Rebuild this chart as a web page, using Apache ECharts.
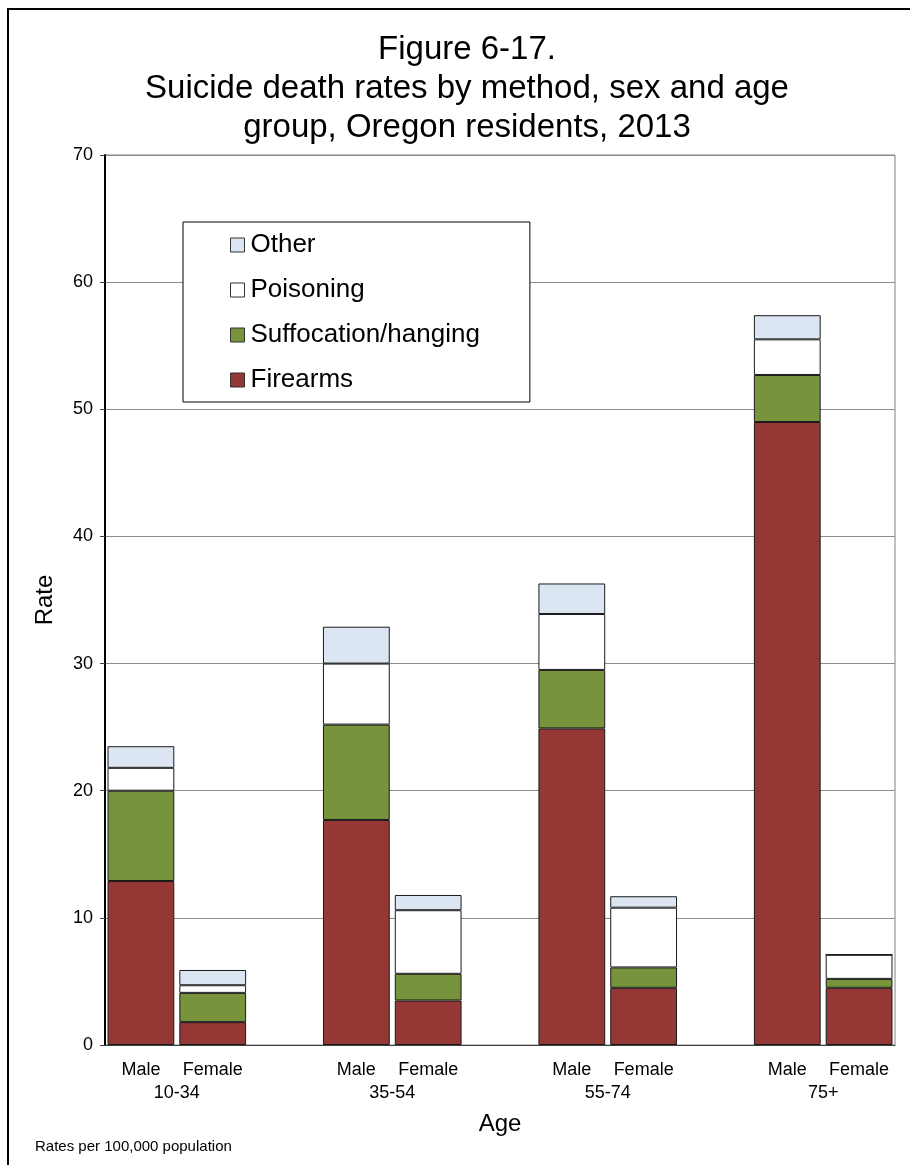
<!DOCTYPE html>
<html>
<head>
<meta charset="utf-8">
<script src="https://cdn.jsdelivr.net/npm/echarts@6/dist/echarts.min.js"></script>
<style>
html,body{margin:0;padding:0;background:#fff;}
#chart{width:910px;height:1165px;}
</style>
</head>
<body>
<div id="chart"></div>
<script>
// ---- data ----
const ageGroups = ['10-34', '35-54', '55-74', '75+'];
const sexes = ['Male', 'Female'];
// order: Male, Female for each age group
const firearms    = [12.9, 1.8, 17.7, 3.5, 24.9, 4.5, 49.0, 4.5];
const suffocation = [7.1, 2.3, 7.5, 2.1, 4.6, 1.6, 3.7, 0.7];
const poisoning   = [1.8, 0.6, 4.8, 5.0, 4.4, 4.7, 2.8, 1.9];
const other       = [1.7, 1.2, 2.9, 1.2, 2.4, 0.9, 1.9, 0];
const yTicks = [0, 10, 20, 30, 40, 50, 60, 70];

// ---- build slots (Male, Female, gap) ----
const cats = [];
const slotIndex = []; // maps data index -> slot
ageGroups.forEach((g, gi) => {
  sexes.forEach((s, si) => { slotIndex.push(cats.length); cats.push(s); });
  if (gi < ageGroups.length - 1) cats.push('');
});
function toSlots(arr) {
  const out = cats.map(() => '-');
  arr.forEach((v, i) => { out[slotIndex[i]] = v; });
  return out;
}
const groupLabelAt = {};
ageGroups.forEach((g, gi) => { groupLabelAt[gi * 3 + 1] = g; });

const border = { borderColor: '#1a1a1a', borderWidth: 1 };
const seriesDefs = [
  { name: 'Firearms', data: firearms, color: '#953735' },
  { name: 'Suffocation/hanging', data: suffocation, color: '#77933C' },
  { name: 'Poisoning', data: poisoning, color: '#FFFFFF' },
  { name: 'Other', data: other, color: '#DCE6F2' }
];

const chart = echarts.init(document.getElementById('chart'), null, { renderer: 'canvas' });
const font = 'Liberation Sans, Arial, sans-serif';
chart.setOption({
  animation: false,
  backgroundColor: '#fff',
  textStyle: { fontFamily: font, color: '#000' },
  title: {
    text: 'Figure 6-17.\nSuicide death rates by method, sex and age\ngroup, Oregon residents, 2013',
    left: 462,
    top: 25,
    textAlign: 'center',
    textStyle: { fontFamily: font, fontSize: 33, fontWeight: 'normal', color: '#000', lineHeight: 39 }
  },
  legend: {
    orient: 'vertical',
    left: 183,
    top: 222,
    data: ['Other', 'Poisoning', 'Suffocation/hanging', 'Firearms'],
    icon: 'rect',
    itemWidth: 14,
    itemHeight: 14,
    itemGap: 19,
    padding: [10, 50, 9, 47],
    borderColor: '#000',
    borderWidth: 1,
    backgroundColor: '#fff',
    textStyle: { fontFamily: font, fontSize: 26, color: '#000', padding: [0, 0, 0, 1] },
    itemStyle: { borderColor: '#333', borderWidth: 1 }
  },
  grid: {
    left: 105, top: 155, width: 790, height: 890,
    show: true, borderColor: '#808080', borderWidth: 1, backgroundColor: 'transparent',
    containLabel: false
  },
  xAxis: [
    {
      type: 'category',
      data: cats,
      axisLine: { show: true, lineStyle: { color: '#404040', width: 1 } },
      axisTick: { show: false },
      axisLabel: { fontFamily: font, fontSize: 18, color: '#000', margin: 16, interval: 0 },
      name: 'Age',
      nameLocation: 'middle',
      nameGap: 67,
      nameTextStyle: { fontFamily: font, fontSize: 24, color: '#000' }
    },
    {
      type: 'value',
      min: 0, max: cats.length, interval: 1,
      position: 'bottom',
      offset: 23,
      axisLine: { show: false },
      axisTick: { show: false },
      splitLine: { show: false },
      axisLabel: {
        fontFamily: font, fontSize: 18, color: '#000', margin: 16,
        showMinLabel: true, showMaxLabel: true,
        formatter: v => groupLabelAt[v] || ''
      }
    }
  ],
  yAxis: {
    type: 'value',
    min: yTicks[0], max: yTicks[yTicks.length - 1], interval: yTicks[1] - yTicks[0],
    axisLine: { show: true, lineStyle: { color: '#000', width: 2 } },
    axisTick: { show: true, length: 5, lineStyle: { color: '#404040' } },
    splitLine: { show: true, lineStyle: { color: '#8c8c8c', width: 1 } },
    axisLabel: { fontFamily: font, fontSize: 18, color: '#000', margin: 12 },
    name: 'Rate',
    nameLocation: 'middle',
    nameGap: 48,
    nameTextStyle: { fontFamily: font, fontSize: 24, color: '#000' }
  },
  series: seriesDefs.map(s => ({
    name: s.name,
    type: 'bar',
    stack: 'total',
    xAxisIndex: 0,
    barCategoryGap: '7%',
    data: toSlots(s.data),
    itemStyle: Object.assign({ color: s.color }, border),
    emphasis: { disabled: true }
  })),
  graphic: [
    {
      type: 'rect',
      shape: { x: 8, y: 9, width: 1000, height: 1300 },
      style: { fill: 'none', stroke: '#000', lineWidth: 2 },
      silent: true
    },
    {
      type: 'text',
      left: 35,
      top: 1139,
      style: { text: 'Rates per 100,000 population', fontFamily: font, fontSize: 15, fill: '#000' }
    }
  ]
});
</script>
</body>
</html>
